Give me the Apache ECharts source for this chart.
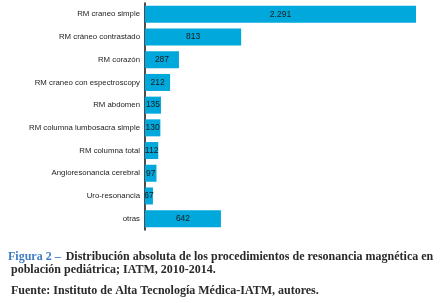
<!DOCTYPE html>
<html>
<head>
<meta charset="utf-8">
<script src="https://cdn.jsdelivr.net/npm/echarts@6/dist/echarts.min.js"></script>
<style>
html, body { margin: 0; padding: 0; background: #fff; }
#chart { width: 442px; height: 303px; }
</style>
</head>
<body>
<div id="chart"></div>
<script>
var categorias = ['RM craneo simple', 'RM cráneo contrastado', 'RM corazón', 'RM craneo con espectroscopy',
    'RM abdomen', 'RM columna lumbosacra simple', 'RM columna total', 'Angioresonancia cerebral',
    'Uro-resonancia', 'otras'];
var valores = [2291, 813, 287, 212, 135, 130, 112, 97, 67, 642];
var etiquetas = ['2.291', '813', '287', '212', '135', '130', '112', '97', '67', '642'];

var myChart = echarts.init(document.getElementById('chart'));

var serif = { fontFamily: 'Liberation Serif', fontWeight: 'bold', fontSize: 12, color: '#2a2a2a' };

var option = {
    animation: false,
    title: [
        {
            left: 3, top: 243,
            text: '{a|Figura 2 –} {b|Distribución absoluta de los procedimientos de resonancia magnética en}',
            textStyle: {
                rich: {
                    a: { fontFamily: 'Liberation Serif', fontWeight: 'bold', fontSize: 12, color: '#3f7cc4' },
                    b: serif
                }
            }
        },
        {
            left: 6, top: 259,
            text: 'población pediátrica; IATM, 2010-2014.',
            textStyle: serif
        },
        {
            left: 6, top: 280,
            text: 'Fuente: Instituto de Alta Tecnología Médica-IATM, autores.',
            textStyle: serif
        }
    ],
    grid: { left: 145, top: 3, width: 271, height: 227 },
    xAxis: {
        type: 'value', min: 0, max: 2291, show: false
    },
    yAxis: {
        type: 'category',
        data: categorias,
        inverse: true,
        axisLine: { show: true, lineStyle: { color: '#111', width: 1.5 } },
        axisTick: { show: false },
        axisLabel: { margin: 5, fontFamily: 'Liberation Sans', fontSize: 7.8, color: '#222' }
    },
    series: [{
        type: 'bar',
        data: valores,
        barWidth: 17,
        itemStyle: { color: '#00a8dc' },
        label: {
            show: true,
            position: 'inside',
            fontFamily: 'Liberation Sans',
            fontSize: 8.5,
            color: '#1a1a1a',
            formatter: function (p) { return etiquetas[p.dataIndex]; }
        }
    }]
};
myChart.setOption(option);
window.addEventListener('resize', function () { myChart.resize(); });
</script>
</body>
</html>
